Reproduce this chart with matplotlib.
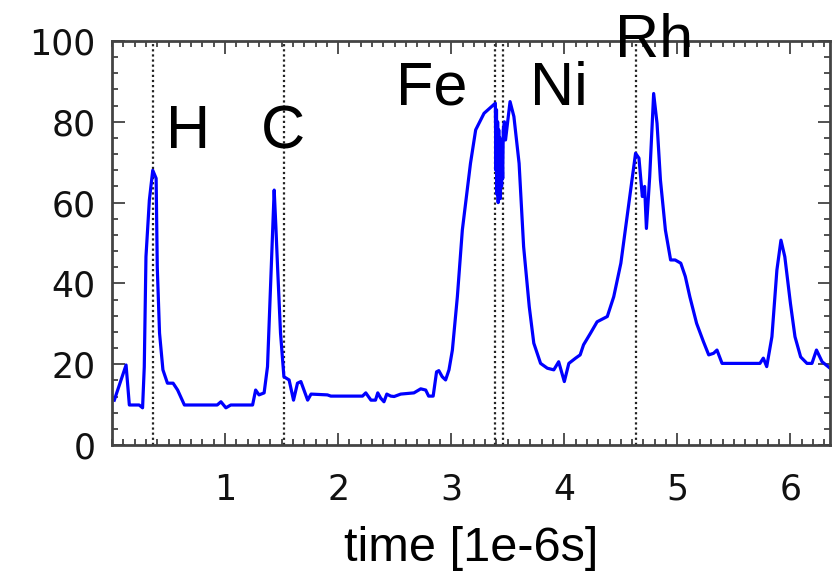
import numpy as np
import matplotlib.pyplot as plt
from matplotlib.ticker import MultipleLocator

# signal
t = [0.02, 0.124, 0.153, 0.24, 0.27, 0.285, 0.30, 0.33, 0.36, 0.39, 0.40, 0.42, 0.45, 0.49,
     0.54, 0.58, 0.64, 0.93, 0.963, 1.007, 1.05, 1.243, 1.27, 1.30, 1.345, 1.375, 1.405, 1.434,
     1.449, 1.464, 1.49, 1.52, 1.566, 1.605, 1.64, 1.67, 1.73, 1.76, 1.905, 1.935, 2.215, 2.244,
     2.29, 2.33, 2.35, 2.376, 2.405, 2.43, 2.465, 2.495, 2.553, 2.67, 2.73, 2.774, 2.80, 2.84,
     2.87, 2.89, 2.92, 2.95, 2.98, 3.01, 3.054, 3.098, 3.17, 3.216, 3.29, 3.39, 3.395, 3.40,
     3.405, 3.41, 3.415, 3.42, 3.425, 3.43, 3.435, 3.44, 3.445, 3.45, 3.455, 3.46, 3.47, 3.48,
     3.52, 3.554, 3.6, 3.64, 3.69, 3.73, 3.79, 3.85, 3.907, 3.95, 4.0, 4.04, 4.1, 4.14, 4.17,
     4.23, 4.29, 4.38, 4.437, 4.5, 4.555, 4.63, 4.66, 4.69, 4.71, 4.726, 4.755, 4.79, 4.82,
     4.85, 4.894, 4.94, 4.98, 5.03, 5.07, 5.11, 5.17, 5.23, 5.277, 5.32, 5.35, 5.395, 5.73,
     5.76, 5.79, 5.836, 5.88, 5.916, 5.95, 6.0, 6.04, 6.09, 6.146, 6.19, 6.23, 6.28, 6.35]
signal = [11.1, 19.8, 9.9, 9.9, 9.2, 19.3, 46.6, 60.6, 68.0, 66.0, 44.0, 27.7, 18.6, 15.3,
          15.3, 13.6, 9.9, 9.9, 10.7, 9.2, 9.9, 9.9, 13.6, 12.4, 12.9, 19.4, 41.7, 63.1,
          54.0, 44.0, 27.7, 16.9, 16.1, 11.1, 15.3, 15.7, 11.1, 12.6, 12.4, 12.1, 12.1, 12.9,
          11.1, 11.1, 12.9, 11.6, 10.7, 12.6, 12.1, 12.0, 12.6, 12.9, 13.9, 13.6, 12.1, 12.1,
          18.1, 18.4, 16.9, 16.1, 18.6, 23.5, 36.7, 53.2, 69.7, 78.0, 82.1, 84.6, 68.0, 83.0,
          62.0, 80.0, 60.0, 78.0, 63.0, 76.0, 61.0, 74.0, 64.0, 72.0, 66.0, 78.0, 80.0, 75.5,
          85.0, 81.3, 69.7, 49.1, 34.2, 25.2, 20.2, 19.0, 18.6, 20.6, 15.7, 20.2, 21.5, 22.3, 24.8,
          27.6, 30.5, 31.8, 36.7, 45.0, 56.5, 72.2, 71.0, 61.5, 64.0, 53.6, 66.4, 87.0, 79.6,
          65.6, 53.2, 45.8, 45.8, 45.0, 41.7, 36.7, 30.1, 25.6, 22.3, 22.7, 23.5, 20.2, 20.2,
          21.5, 19.4, 26.8, 43.3, 50.7, 46.6, 35.0, 26.8, 21.8, 20.2, 20.2, 23.5, 20.6, 19.0]

elements = ['H', 'C', 'Fe', 'Ni', 'Rh']
line_pos = [0.36, 1.517, 3.39, 3.46, 4.63]
label_x = [0.477, 1.316, 2.51, 3.70, 4.45]
label_y = [73.5, 73.5, 84.2, 84.2, 96.1]

fig = plt.figure(figsize=(8.38, 5.75), dpi=100)
ax = fig.add_axes([0.1337, 0.2261, 0.8568, 0.7026])

for xv in line_pos:
    ax.axvline(xv, color='#222222', ls=(0, (1, 1.3)), lw=1.6, zorder=1)

ax.plot(t, signal, color='#0000ff', lw=2.3, zorder=2)

for name, xl, yl in zip(elements, label_x, label_y):
    ax.text(xl, yl, name, fontsize=44, family='Liberation Sans', ha='left', va='baseline')

ax.set_xlim(0, 6.35)
ax.set_ylim(0, 100)
ax.xaxis.set_major_locator(MultipleLocator(1))
ax.xaxis.set_minor_locator(MultipleLocator(0.1))
ax.yaxis.set_major_locator(MultipleLocator(20))
ax.yaxis.set_minor_locator(MultipleLocator(4))
ax.set_xticks([1, 2, 3, 4, 5, 6])
ax.tick_params(which='both', direction='in', top=True, right=True, width=1.2, color='#333333')
ax.tick_params(which='major', length=9)
ax.tick_params(which='minor', length=4)
ax.tick_params(axis='x', which='major', pad=20, labelsize=25)
ax.tick_params(axis='y', which='major', pad=12, labelsize=25)
for lab in ax.get_xticklabels() + ax.get_yticklabels():
    lab.set_family('DejaVu Sans')
    lab.set_color('#111111')
for sp in ax.spines.values():
    sp.set_linewidth(2)
    sp.set_color('#444444')

ax.set_xlabel('time [1e-6s]', fontsize=35, family='Liberation Sans', labelpad=14)

fig.savefig('out.png', dpi=100)
